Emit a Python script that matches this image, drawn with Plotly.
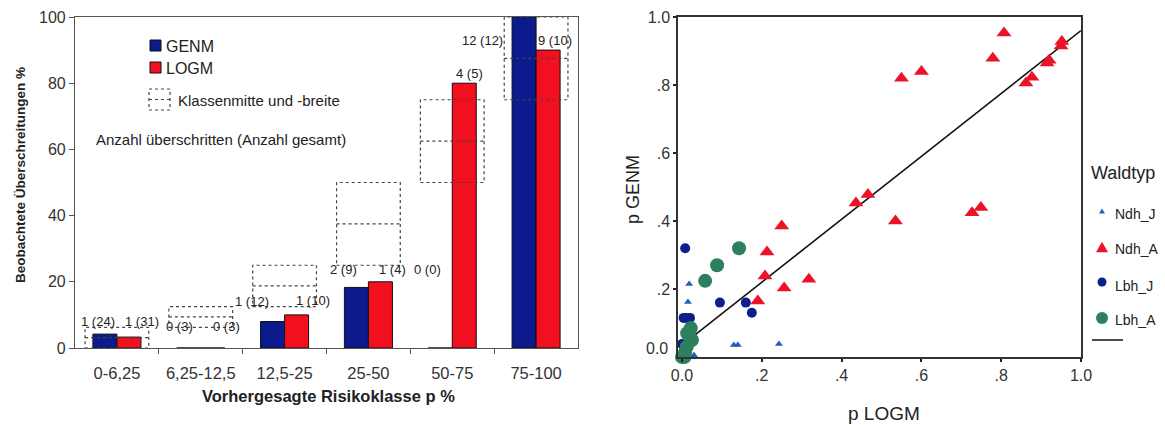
import plotly.graph_objects as go
import numpy as np

# ---------------- data: left bar chart ----------------
classes = ["0-6,25", "6,25-12,5", "12,5-25", "25-50", "50-75", "75-100"]
class_lo = [0, 6.25, 12.5, 25, 50, 75]
class_hi = [6.25, 12.5, 25, 50, 75, 100]
genm_pct = [4.2, 0, 8.0, 18.3, 0, 100]
logm_pct = [3.3, 0, 10.0, 20.0, 80.0, 90.0]
genm_lbl = ["1 (24)", "0 (3)", "1 (12)", "2 (9)", "0 (0)", "12 (12)"]
logm_lbl = ["1 (31)", "0 (3)", "1 (10)", "1 (4)", "4 (5)", "9 (10)"]

# ---------------- data: right scatter ----------------
ndh_j_x = [0.018, 0.015, 0.13, 0.14, 0.243, 0.03, 0.02]
ndh_j_y = [0.215, 0.162, 0.035, 0.035, 0.038, 0.005, 0.0]
ndh_a_x = [0.19, 0.208, 0.213, 0.25, 0.256, 0.318, 0.436, 0.466, 0.535, 0.55, 0.60,
           0.727, 0.749, 0.779, 0.807, 0.862, 0.877, 0.915, 0.92, 0.95, 0.952]
ndh_a_y = [0.165, 0.238, 0.309, 0.385, 0.203, 0.229, 0.453, 0.478, 0.40, 0.82, 0.84,
           0.424, 0.44, 0.879, 0.953, 0.806, 0.823, 0.865, 0.873, 0.915, 0.928]
lbh_j_x = [0.008, 0.004, 0.012, 0.02, 0.095, 0.16, 0.175, 0.0]
lbh_j_y = [0.32, 0.115, 0.115, 0.115, 0.16, 0.16, 0.13, 0.038]
lbh_a_x = [0.143, 0.088, 0.058, 0.022, 0.013, 0.025, 0.012, 0.008, 0.0, 0.006]
lbh_a_y = [0.32, 0.27, 0.224, 0.085, 0.07, 0.05, 0.03, 0.015, 0.0, 0.0]
fit_x = [0.0, 1.0]
fit_y = [0.035, 0.96]

x_ticks_r = [0.0, 0.2, 0.4, 0.6, 0.8, 1.0]
x_ticktext_r = ["0.0", ".2", ".4", ".6", ".8", "1.0"]
y_ticks_r = [0.2, 0.4, 0.6, 0.8, 1.0]
y_ticktext_r = [".2", ".4", ".6", ".8", "1.0"]

# ---------------- style / layout ----------------
W, H = 1165, 425
FONT = "Arial, Liberation Sans, sans-serif"
BLUE = "#0b1a8c"
RED = "#f2101e"
TXT = "#222222"

def px(x):
    return x / W

def py(y):
    return 1 - y / H

def text(x, y, s, size, xanchor="center", angle=0, color=TXT, ref="paper"):
    if ref == "paper":
        return dict(x=px(x), y=py(y), xref="paper", yref="paper", text=s, showarrow=False,
                    xanchor=xanchor, yanchor="middle", textangle=angle,
                    font=dict(size=size, color=color, family=FONT))
    return dict(x=x, y=y, xref="x", yref="y", text=s, showarrow=False,
                xanchor=xanchor, yanchor="middle", textangle=angle,
                font=dict(size=size, color=color, family=FONT))

# label placement (offset from class centre, y in %)
genm_lbl_pos = [(-0.23, 7.9), (-0.25, 6.6), (-0.39, 14.2), (-0.30, 23.6), (-0.29, 23.6), (-0.64, 93)]
logm_lbl_pos = [(0.30, 7.9), (0.31, 6.6), (0.34, 14.4), (0.29, 23.6), (0.20, 83), (0.22, 93)]

xi = np.arange(len(classes))

fig = go.Figure()
fig.add_trace(go.Bar(x=xi, y=genm_pct, marker=dict(color=BLUE, line=dict(color="#111", width=1)),
                     xaxis="x", yaxis="y", showlegend=False))
fig.add_trace(go.Bar(x=xi, y=logm_pct, marker=dict(color=RED, line=dict(color="#111", width=1)),
                     xaxis="x", yaxis="y", showlegend=False))

shapes = []
annotations = []
BOX_HW = 0.38
for i in range(len(classes)):
    lo, hi = class_lo[i], class_hi[i]
    shapes.append(dict(type="rect", xref="x", yref="y", x0=i - BOX_HW, x1=i + BOX_HW, y0=lo, y1=hi,
                       line=dict(color="#444", width=1.2, dash="dot"), layer="above"))
    shapes.append(dict(type="line", xref="x", yref="y", x0=i - BOX_HW, x1=i + BOX_HW,
                       y0=(lo + hi) / 2, y1=(lo + hi) / 2,
                       line=dict(color="#444", width=1.2, dash="dot"), layer="above"))
    gx, gy = genm_lbl_pos[i]
    lx, ly = logm_lbl_pos[i]
    annotations.append(text(i + gx, gy, genm_lbl[i], 13, ref="data"))
    annotations.append(text(i + lx, ly, logm_lbl[i], 13, ref="data"))

# right scatter
fig.add_trace(go.Scatter(x=fit_x, y=fit_y, mode="lines", line=dict(color="#111", width=1.6),
                         xaxis="x2", yaxis="y2", showlegend=False, cliponaxis=False))
fig.add_trace(go.Scatter(x=ndh_j_x, y=ndh_j_y, mode="markers",
                         marker=dict(symbol="triangle-up", size=7, color="#1f5fbf"),
                         xaxis="x2", yaxis="y2", showlegend=False, cliponaxis=False))
fig.add_trace(go.Scatter(x=ndh_a_x, y=ndh_a_y, mode="markers",
                         marker=dict(symbol="triangle-up", size=13, color="#ec1328"),
                         xaxis="x2", yaxis="y2", showlegend=False, cliponaxis=False))
fig.add_trace(go.Scatter(x=lbh_j_x, y=lbh_j_y, mode="markers",
                         marker=dict(symbol="circle", size=10, color="#0c1f8c"),
                         xaxis="x2", yaxis="y2", showlegend=False, cliponaxis=False))
fig.add_trace(go.Scatter(x=lbh_a_x, y=lbh_a_y, mode="markers",
                         marker=dict(symbol="circle", size=14, color="#2e7f5e"),
                         xaxis="x2", yaxis="y2", showlegend=False, cliponaxis=False))

# left legend (manual)
shapes.append(dict(type="rect", xref="paper", yref="paper", x0=px(150), x1=px(161), y0=py(51), y1=py(40),
                   fillcolor=BLUE, line=dict(color="#111", width=1)))
shapes.append(dict(type="rect", xref="paper", yref="paper", x0=px(150), x1=px(161), y0=py(73), y1=py(62),
                   fillcolor=RED, line=dict(color="#111", width=1)))
shapes.append(dict(type="rect", xref="paper", yref="paper", x0=px(149), x1=px(170), y0=py(110), y1=py(89),
                   line=dict(color="#444", width=1.2, dash="dot")))
shapes.append(dict(type="line", xref="paper", yref="paper", x0=px(149), x1=px(170), y0=py(99.5), y1=py(99.5),
                   line=dict(color="#444", width=1.2, dash="dot")))
annotations += [
    text(164, 46, "GENM", 16, xanchor="left"),
    text(164, 68, "LOGM", 16, xanchor="left"),
    text(176, 100, "Klassenmitte und -breite", 15, xanchor="left"),
    text(94, 140, "Anzahl überschritten (Anzahl gesamt)", 15, xanchor="left"),
    # axis titles
    text(20, 175, "<b>Beobachtete Überschreitungen %</b>", 13.5, angle=-90),
    text(328, 396, "<b>Vorhergesagte Risikoklasse p %</b>", 16.5),
    text(633, 190, "p GENM", 18, angle=-90),
    text(884, 413, "p LOGM", 19),
    text(670, 348, "0.0", 16, xanchor="right", color="#333"),
]

# right legend (manual)
def tri(cx, cy, s):
    h = s * 0.87
    return (f"M {px(cx - s/2)},{py(cy + h/2)} L {px(cx + s/2)},{py(cy + h/2)} "
            f"L {px(cx)},{py(cy - h/2)} Z")

shapes.append(dict(type="path", xref="paper", yref="paper", path=tri(1102, 211, 6),
                   fillcolor="#1f5fbf", line=dict(width=0)))
shapes.append(dict(type="path", xref="paper", yref="paper", path=tri(1102, 247, 12),
                   fillcolor="#ec1328", line=dict(width=0)))
shapes.append(dict(type="circle", xref="paper", yref="paper", x0=px(1097.5), x1=px(1106.5),
                   y0=py(286.5), y1=py(277.5), fillcolor="#0c1f8c", line=dict(width=0)))
shapes.append(dict(type="circle", xref="paper", yref="paper", x0=px(1096), x1=px(1108),
                   y0=py(324), y1=py(312), fillcolor="#2e7f5e", line=dict(width=0)))
shapes.append(dict(type="line", xref="paper", yref="paper", x0=px(1092), x1=px(1123),
                   y0=py(340), y1=py(340), line=dict(color="#111", width=1.5)))
annotations += [
    text(1089, 173, "Waldtyp", 18, xanchor="left"),
    text(1113, 214, "Ndh_J", 14, xanchor="left"),
    text(1113, 249, "Ndh_A", 14, xanchor="left"),
    text(1113, 286, "Lbh_J", 14, xanchor="left"),
    text(1113, 320, "Lbh_A", 14, xanchor="left"),
]

fig.update_layout(
    width=W, height=H,
    margin=dict(l=0, r=0, t=0, b=0),
    paper_bgcolor="white", plot_bgcolor="white",
    barmode="group", bargap=0.427, bargroupgap=0,
    font=dict(family=FONT, color="#333"),
    xaxis=dict(domain=[px(75), px(578)], range=[-0.5, 5.5], tickvals=list(xi), ticktext=classes,
               ticks="", showgrid=False, zeroline=False, showline=True, linecolor="#555", linewidth=1.2,
               mirror=True, tickfont=dict(size=16.5, color="#333"), automargin=False, ticklabelstandoff=10,
               minor=dict(tickvals=[0.5, 1.5, 2.5, 3.5, 4.5], ticks="outside", ticklen=5,
                          tickcolor="#555", showgrid=False)),
    yaxis=dict(domain=[py(348), py(17)], range=[0, 100], tickvals=[0, 20, 40, 60, 80, 100],
               ticks="outside", ticklen=5, tickcolor="#555", showgrid=False, zeroline=False,
               showline=True, linecolor="#555", linewidth=1.2, mirror=True,
               tickfont=dict(size=16, color="#333"), automargin=False),
    xaxis2=dict(domain=[px(678), px(1081)], range=[-0.01, 1.0], tickvals=x_ticks_r, ticktext=x_ticktext_r,
                ticks="outside", ticklen=3, tickwidth=2, tickcolor="#222", showgrid=False, zeroline=False,
                showline=True, linecolor="#333", linewidth=1.5, mirror=True, anchor="y2",
                tickfont=dict(size=16, color="#333"), automargin=False),
    yaxis2=dict(domain=[py(357), py(17)], range=[0, 1.0], tickvals=y_ticks_r, ticktext=y_ticktext_r,
                ticks="outside", ticklen=3, tickwidth=2, tickcolor="#222", showgrid=False, zeroline=False,
                showline=True, linecolor="#333", linewidth=1.5, mirror=True, anchor="x2",
                tickfont=dict(size=16, color="#333"), automargin=False),
    shapes=shapes,
    annotations=annotations,
)

fig.write_html("out.html")
